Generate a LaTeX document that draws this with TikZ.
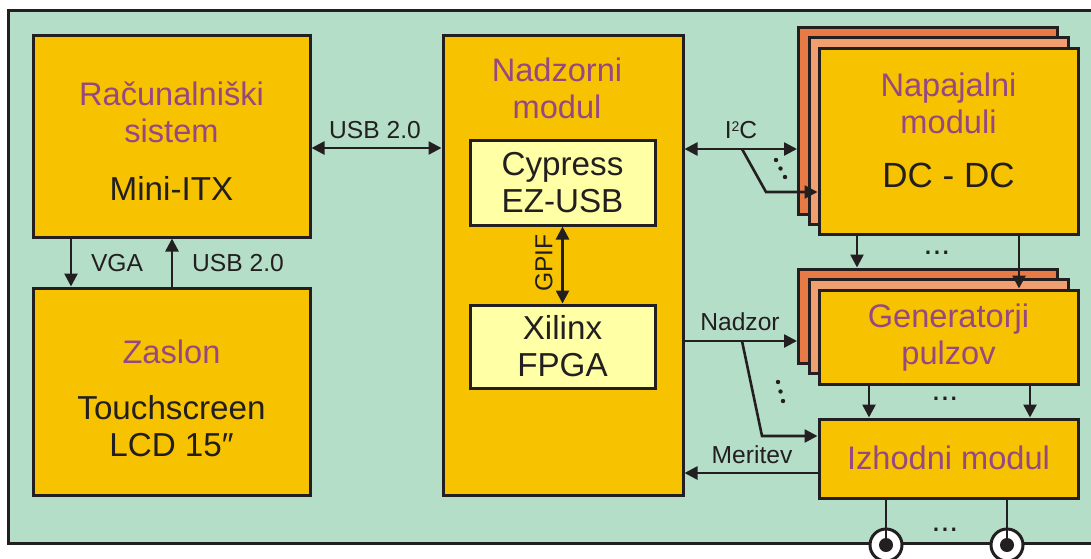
\documentclass[tikz,border=0pt]{standalone}
\usepackage{fontspec}
\setmainfont{Liberation Sans}
\usetikzlibrary{arrows.meta}
\definecolor{ozadje}{RGB}{180,222,200}
\definecolor{rumena}{RGB}{247,195,0}
\definecolor{svetla}{RGB}{255,255,165}
\definecolor{temna}{RGB}{232,122,70}
\definecolor{srednja}{RGB}{240,160,112}
\definecolor{naslovbarva}{RGB}{150,72,130}
\definecolor{crta}{RGB}{35,31,32}
\begin{document}
\begin{tikzpicture}[x=0.5pt, y=-0.5pt,
    blok/.style={draw=crta, line width=1.5pt, fill=rumena, inner sep=0pt},
    sloj/.style={blok, minimum width=129.5pt},
    naslov/.style={text=naslovbarva, align=center, font=\fontsize{16.3}{18.5}\selectfont},
    vsebina/.style={text=crta, align=center, font=\fontsize{16.6}{18.5}\selectfont},
    oznaka/.style={text=crta, font=\fontsize{12.3}{14}\selectfont, inner sep=1pt},
    pike/.style={text=crta, font=\fontsize{16}{16}\selectfont, inner sep=0pt},
    puscica/.style={draw=crta, line width=1.3pt, -{Triangle[length=6.5pt,width=6.5pt]}},
    dvo/.style={draw=crta, line width=1.3pt, {Triangle[length=6.5pt,width=6.5pt]}-{Triangle[length=6.5pt,width=6.5pt]}},
    konektor/.style={circle, draw=crta, line width=1.5pt, fill=white, minimum size=16pt, inner sep=0pt}]
  \clip (0,0) rectangle (1091,558);
  \draw [line width=1.5pt, draw=crta, fill=ozadje] (8,10) rectangle (1120,543);

  \node [blok, minimum width=138.5pt, minimum height=101pt] (racun) at (171.5,136) {};
  \node [naslov] (racunT) at (171.5,112) {Računalniški\\sistem};
  \node [vsebina] (racunB) at (171.5,188) {Mini-ITX};

  \node [blok, minimum width=138.5pt, minimum height=103.5pt] (zaslon) at (171.5,391.5) {};
  \node [naslov] (zaslonT) at (171.5,352) {Zaslon};
  \node [vsebina] (zaslonB) at (171.5,426) {Touchscreen\\LCD 15″};

  \node [blok, minimum width=120pt, minimum height=230pt] (nadzor) at (563,265) {};
  \node [naslov] (nadzorT) at (557,88) {Nadzorni\\modul};
  \node [blok, fill=svetla, minimum width=92.5pt, minimum height=42.5pt, vsebina] (cypress) at (562.5,182.5) {Cypress\\EZ-USB};
  \node [blok, fill=svetla, minimum width=92.5pt, minimum height=41.5pt, vsebina] (xilinx) at (562.5,346.5) {Xilinx\\FPGA};

  \node [sloj, fill=temna, minimum height=93.5pt] (napB) at (928,120.5) {};
  \node [sloj, fill=srednja, minimum height=93.5pt] (napM) at (938.5,130.5) {};
  \node [sloj, minimum height=93pt] (nap) at (948.5,141) {};
  \node [naslov] (napT) at (948.5,103) {Napajalni\\moduli};
  \node [vsebina, font=\fontsize{17.5}{19}\selectfont] (napB2) at (948.5,175) {DC - DC};

  \node [sloj, fill=temna, minimum height=47pt] (genB) at (928,316) {};
  \node [sloj, fill=srednja, minimum height=47pt] (genM) at (938.5,326) {};
  \node [sloj, minimum height=47pt] (gen) at (948.5,337) {};
  \node [naslov] (genT) at (948.5,338) {Generatorji\\pulzov};

  \node [sloj, minimum height=39.5pt] (izh) at (948.5,458.5) {};
  \node [naslov] (izhT) at (948.5,458) {Izhodni modul};

  \coordinate (usb) at (0,148);
  \draw [dvo] (racun.east |- usb) -- (nadzor.west |- usb);
  \node [oznaka] (usbL) at (375,130) {USB 2.0};

  \coordinate (vga) at (71,0);
  \coordinate (usbgor) at (172,0);
  \draw [puscica] (racun.south -| vga) -- (zaslon.north -| vga);
  \draw [puscica] (zaslon.north -| usbgor) -- (racun.south -| usbgor);
  \node [oznaka] (vgaL) at (117,263) {VGA};
  \node [oznaka] (usbgorL) at (238,263) {USB 2.0};

  \draw [dvo] (cypress.south) -- (xilinx.north);
  \node [oznaka, rotate=90] (gpifL) at (544,263) {GPIF};

  \coordinate (i2c) at (742,149);
  \coordinate (i2cK) at (766,192);
  \draw [dvo] (nadzor.east |- i2c) -- (napB.west |- i2c);
  \draw [puscica] (i2c) -- (i2cK) -- (nap.west |- i2cK);
  \node [oznaka] (i2cL) at (741,130) {I\raisebox{0.55ex}{\fontsize{7}{7}\selectfont 2}C};
  \fill [crta] (776,160) circle (1.1pt) (780.5,168.5) circle (1.1pt) (785,177) circle (1.1pt);

  \coordinate (nad) at (742,341);
  \coordinate (nadK) at (762,436);
  \draw [puscica] (nadzor.east |- nad) -- (genB.west |- nad);
  \draw [puscica] (nad) -- (nadK) -- (izh.west |- nadK);
  \node [oznaka] (nadL) at (740,322) {Nadzor};
  \fill [crta] (778,382) circle (1.1pt) (780.5,391.5) circle (1.1pt) (783,401) circle (1.1pt);

  \coordinate (mer) at (750,473);
  \draw [puscica] (izh.west |- mer) -- (nadzor.east |- mer);
  \node [oznaka] (merL) at (752,455) {Meritev};

  \coordinate (s1) at (857,0);
  \coordinate (s2) at (1019,0);
  \draw [puscica] (nap.south -| s1) -- (genB.north -| s1);
  \draw [puscica] (nap.south -| s2) -- (gen.north -| s2);
  \node [pike] (napP) at (937,253) {...};

  \coordinate (s3) at (869,0);
  \coordinate (s4) at (1030,0);
  \draw [puscica] (gen.south -| s3) -- (izh.north -| s3);
  \draw [puscica] (gen.south -| s4) -- (izh.north -| s4);
  \node [pike] (genP) at (945,399) {...};

  \node [konektor] (k1) at (886,545) {};
  \node [konektor] (k2) at (1007,545) {};
  \draw [crta, line width=1.3pt] (izh.south -| k1) -- (k1.center);
  \draw [crta, line width=1.3pt] (izh.south -| k2) -- (k2.center);
  \fill [crta] (k1) circle (3.5pt);
  \fill [crta] (k2) circle (3.5pt);
  \node [pike] (izhP) at (945,530) {...};
\end{tikzpicture}
\end{document}
